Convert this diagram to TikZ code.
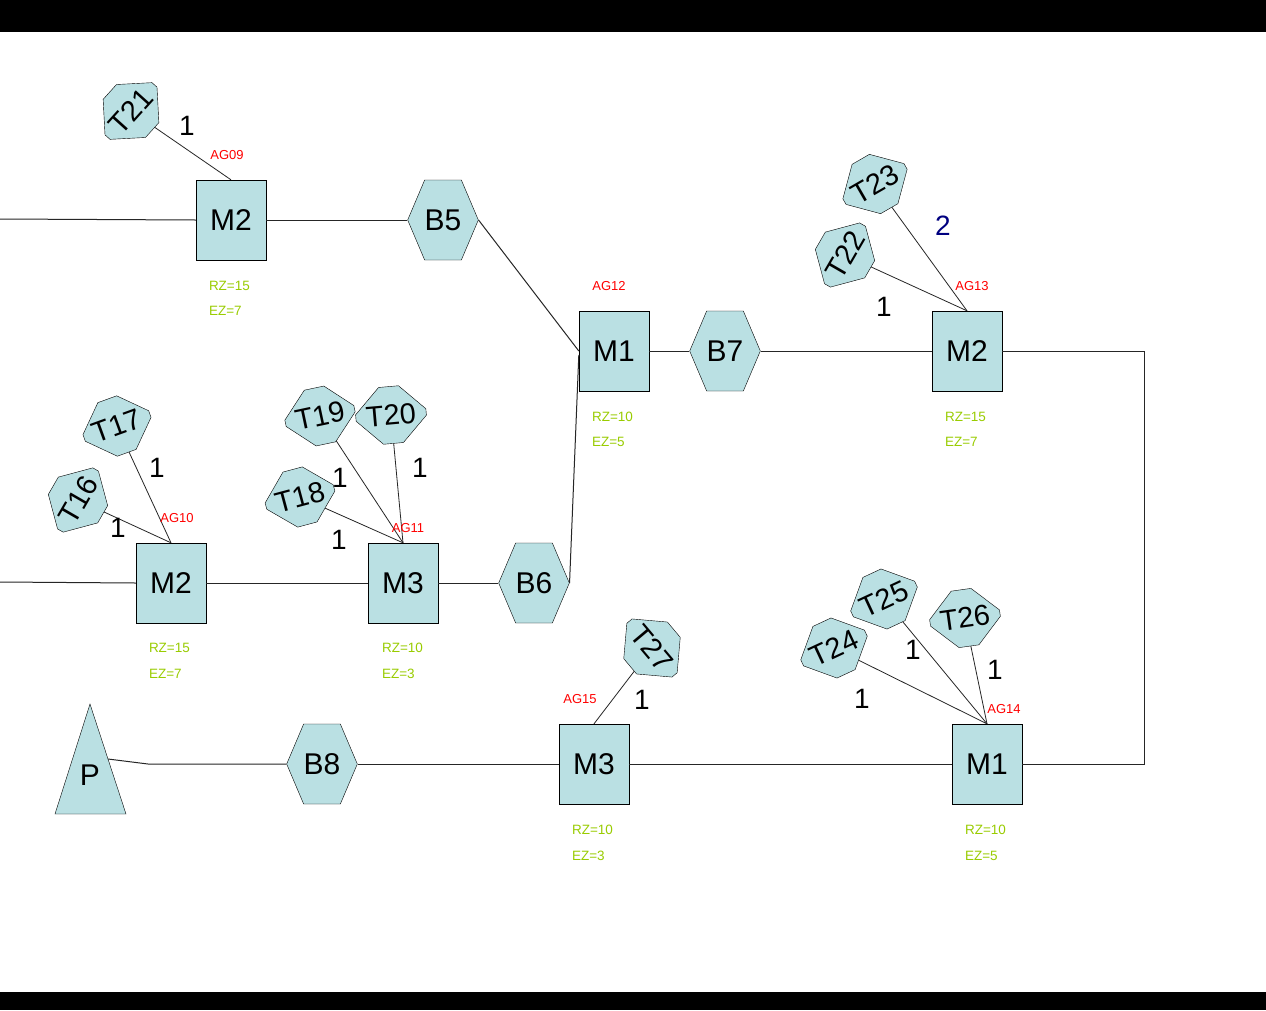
\documentclass[tikz,border=0pt]{standalone}
\usepackage{fontspec}
\setmainfont{Liberation Sans}
\usetikzlibrary{shapes.misc, shapes.symbols, calc, positioning}

\definecolor{boxblue}{RGB}{186,224,227}
\definecolor{agred}{RGB}{255,0,0}
\definecolor{zgreen}{RGB}{153,204,0}
\definecolor{cntblue}{RGB}{0,0,128}

\tikzset{
    machine/.style={draw, fill=boxblue, minimum width=70pt, minimum height=80pt, inner sep=0pt, font=\fontsize{30}{30}\selectfont},
    buffer/.style={draw, fill=boxblue, signal, signal to=east and west, signal pointer angle=134, minimum width=69pt, minimum height=80pt, inner sep=0pt, font=\fontsize{30}{30}\selectfont},
    tool/.style={draw, fill=boxblue, chamfered rectangle, chamfered rectangle xsep=15pt, chamfered rectangle ysep=15pt, minimum width=68pt, minimum height=57pt, inner sep=0pt, font=\fontsize{29}{29}\selectfont},
    ag/.style={text=agred, inner sep=0pt, font=\fontsize{13}{13}\selectfont},
    zone/.style={text=zgreen, anchor=west, inner sep=0pt, font=\fontsize{13.5}{13.5}\selectfont},
    count/.style={inner sep=0pt, font=\fontsize{28}{28}\selectfont},
    flow/.style={draw=black!85, line width=1pt},
    link/.style={draw=black!85, line width=0.8pt}
}

\begin{document}
\begin{tikzpicture}[x=1pt, y=-1pt]
        % Frame with the black bars
        \useasboundingbox (0,0) rectangle (1266,1010);
        \fill[white] (0,0) rectangle (1266,1010);
        \fill[black] (0,0) rectangle (1266,32);
        \fill[black] (0,992) rectangle (1266,1010);

        % Machines and buffers
        \node[machine] (M2a) at (231,220) {M2};
        \node[buffer] (B5) at (443,220) {B5};
        \node[machine] (M1a) at (614,351) {M1};
        \node[buffer] (B7) at (725,351) {B7};
        \node[machine] (M2b) at (967,351) {M2};

        \node[machine] (M2c) at (171,583) {M2};
        \node[machine] (M3a) at (403,583) {M3};
        \node[buffer] (B6) at (534,583) {B6};

        \draw[fill=boxblue] (90,704) -- (126,814) -- (55,814) -- cycle;
        \node[font=\fontsize{30}{30}\selectfont] (P) at (90,775) {P};
        \coordinate (Pout) at (108,759);
        \node[buffer] (B8) at (322,764) {B8};
        \node[machine] (M3b) at (594,764) {M3};
        \node[machine] (M1b) at (987,764) {M1};

        % Tools
        \node[tool, rotate=48] (T21) at (131,111) {T21};
        \node[tool, rotate=60] (T22) at (845,255) {T22};
        \node[tool, rotate=30] (T23) at (875,184) {T23};
        \node[tool, rotate=60] (T16) at (78,500) {T16};
        \node[tool, rotate=20] (T17) at (117,426) {T17};
        \node[tool, rotate=15] (T18) at (300,497) {T18};
        \node[tool, rotate=12] (T19) at (320,416) {T19};
        \node[tool, rotate=5] (T20) at (391,415) {T20};
        \node[tool, rotate=25] (T24) at (834,648) {T24};
        \node[tool, rotate=25] (T25) at (884,599) {T25};
        \node[tool, rotate=8] (T26) at (965,618) {T26};
        \node[tool, rotate=-50] (T27) at (652,648) {T27};

        % Material flow
        \coordinate (inA) at (0,219);
        \coordinate (inB) at (0,582);
        \draw[flow] (inA) -- (M2a.west);
        \draw[flow] (M2a.east) -- (B5.west);
        \draw[flow] (B5.east) -- (M1a.west);
        \draw[flow] (M1a.east) -- (B7.west);
        \draw[flow] (B7.east) -- (M2b.west);
        \draw[flow] (M2b.east) -- ++(142,0) |- (M1b.east);
        \draw[flow] (inB) -- (M2c.west);
        \draw[flow] (M2c.east) -- (M3a.west);
        \draw[flow] (M3a.east) -- (B6.west);
        \draw[flow] (B6.east) -- ([yshift=-4pt]M1a.west);
        \draw[flow] (M1b.west) -- (M3b.east);
        \draw[flow] (M3b.west) -- (B8.east);
        \draw[flow] (B8.west) -- (148,764) -- (Pout);

        % Tool links
        \draw[link] (T21) -- (M2a.north);
        \draw[link] (T22) -- (M2b.north);
        \draw[link] (T23) -- (M2b.north);
        \draw[link] (T16) -- (M2c.north);
        \draw[link] (T17) -- (M2c.north);
        \draw[link] (T18) -- (M3a.north);
        \draw[link] (T19) -- (M3a.north);
        \draw[link] (T20) -- (M3a.north);
        \draw[link] (T24) -- (M1b.north);
        \draw[link] (T25) -- (M1b.north);
        \draw[link] (T26) -- (M1b.north);
        \draw[link] (T27) -- (M3b.north);

        % Tool counts
        \node[count] (c21) at (187,126) {1};
        \node[count] (c22) at (884,307) {1};
        \node[count, text=cntblue] (c23) at (943,226) {2};
        \node[count] (c16) at (118,528) {1};
        \node[count] (c17) at (157,468) {1};
        \node[count] (c18) at (339,540) {1};
        \node[count] (c19) at (340,478) {1};
        \node[count] (c20) at (420,468) {1};
        \node[count] (c24) at (862,699) {1};
        \node[count] (c25) at (913,650) {1};
        \node[count] (c26) at (995,670) {1};
        \node[count] (c27) at (642,700) {1};

        % Work group labels
        \node[ag] (ag09) at (227,155) {AG09};
        \node[ag] (ag12) at (609,286) {AG12};
        \node[ag] (ag13) at (972,286) {AG13};
        \node[ag] (ag10) at (177,518) {AG10};
        \node[ag] (ag11) at (408,528) {AG11};
        \node[ag] (ag15) at (580,699) {AG15};
        \node[ag] (ag14) at (1004,709) {AG14};

        % Zones below the machines
        \node[zone] at ([shift={(13,26)}]M2a.south west) {RZ=15};
        \node[zone] at ([shift={(13,51)}]M2a.south west) {EZ=7};
        \node[zone] at ([shift={(13,26)}]M1a.south west) {RZ=10};
        \node[zone] at ([shift={(13,51)}]M1a.south west) {EZ=5};
        \node[zone] at ([shift={(13,26)}]M2b.south west) {RZ=15};
        \node[zone] at ([shift={(13,51)}]M2b.south west) {EZ=7};
        \node[zone] at ([shift={(13,25)}]M2c.south west) {RZ=15};
        \node[zone] at ([shift={(13,51)}]M2c.south west) {EZ=7};
        \node[zone] at ([shift={(14,25)}]M3a.south west) {RZ=10};
        \node[zone] at ([shift={(14,51)}]M3a.south west) {EZ=3};
        \node[zone] at ([shift={(13,26)}]M3b.south west) {RZ=10};
        \node[zone] at ([shift={(13,52)}]M3b.south west) {EZ=3};
        \node[zone] at ([shift={(13,26)}]M1b.south west) {RZ=10};
        \node[zone] at ([shift={(13,52)}]M1b.south west) {EZ=5};

    \end{tikzpicture}
\end{document}
